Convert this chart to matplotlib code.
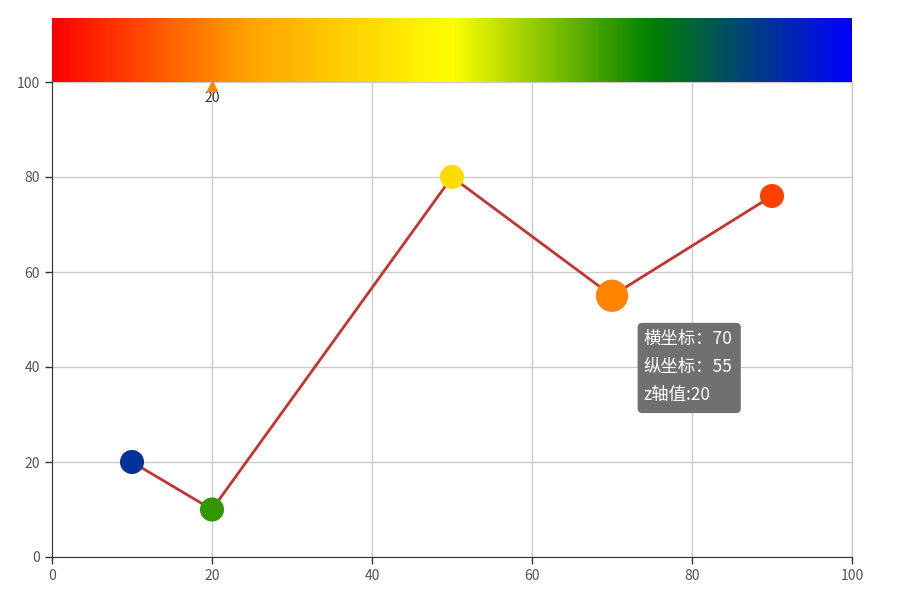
import matplotlib
matplotlib.use("Agg")
import matplotlib.pyplot as plt
from matplotlib.colors import LinearSegmentedColormap, Normalize
from matplotlib.patches import FancyBboxPatch
import numpy as np

plt.rcParams['font.family'] = ['Noto Sans CJK SC', 'DejaVu Sans']

# data: x, y, z (z drives the colour through the visual map)
xs = [10, 20, 50, 70, 90]
ys = [20, 10, 80, 55, 76]
zs = [90, 70, 40, 20, 10]
sizes = [300, 300, 300, 540, 300]   # the hovered point is drawn bigger
hover_idx = 3
tip_lines = ["横坐标：70", "纵坐标：55", "z轴值:20"]

cmap = LinearSegmentedColormap.from_list("vm", ["red", "orange", "yellow", "green", "blue"])
norm = Normalize(0, 100)

fig = plt.figure(figsize=(9.04, 6.07), dpi=100)
ax = fig.add_axes([52 / 904, 50 / 607, 800 / 904, 475 / 607])

ax.plot(xs, ys, color="#c23531", lw=2, zorder=3)
ax.scatter(xs, ys, s=sizes, c=[cmap(norm(z)) for z in zs], zorder=4, linewidths=0)

ax.set_xlim(0, 100)
ax.set_ylim(0, 100)
ax.set_xticks(range(0, 101, 20))
ax.set_yticks(range(0, 101, 20))
ax.grid(True, color="#cccccc", lw=1)
ax.axvline(100, color="#cccccc", lw=1, clip_on=False, zorder=0)
ax.set_axisbelow(True)
for s in ["top", "right"]:
    ax.spines[s].set_visible(False)
for s in ["left", "bottom"]:
    ax.spines[s].set_color("#333333")
ax.tick_params(colors="#333333", labelsize=10, length=5, width=1, labelcolor="#555555")

# visual map bar on top
bar = fig.add_axes([52 / 904, 525 / 607, 800 / 904, 64 / 607])
bar.imshow(np.linspace(0, 1, 512).reshape(1, -1), aspect="auto", cmap=cmap,
           extent=[0, 100, 0, 1])
bar.set_xlim(0, 100)
bar.axis("off")

# indicator for hovered z value
zv = zs[hover_idx]
ax.plot([zv], [99.1], marker="^", ms=7, color=cmap(norm(zv)), clip_on=False, zorder=6)
ax.text(zv, 96.6, str(zv), ha="center", va="center", fontsize=10, color="#333333")

# tooltip
px, py = xs[hover_idx], ys[hover_idx]
tx0, ty0 = 73.2, 30.3
box = FancyBboxPatch((tx0, ty0), 12.9, 19.0, boxstyle="round,pad=0,rounding_size=0.6",
                     facecolor="#707070", edgecolor="none", zorder=7,
                     mutation_aspect=1.6)
ax.add_patch(box)
for i, t in enumerate(tip_lines):
    ax.text(tx0 + 0.7, ty0 + 19.0 - 3.4 - i * 5.9, t, fontsize=12.5, color="white",
            va="center", ha="left", zorder=8)

fig.savefig("out.png", dpi=100)
